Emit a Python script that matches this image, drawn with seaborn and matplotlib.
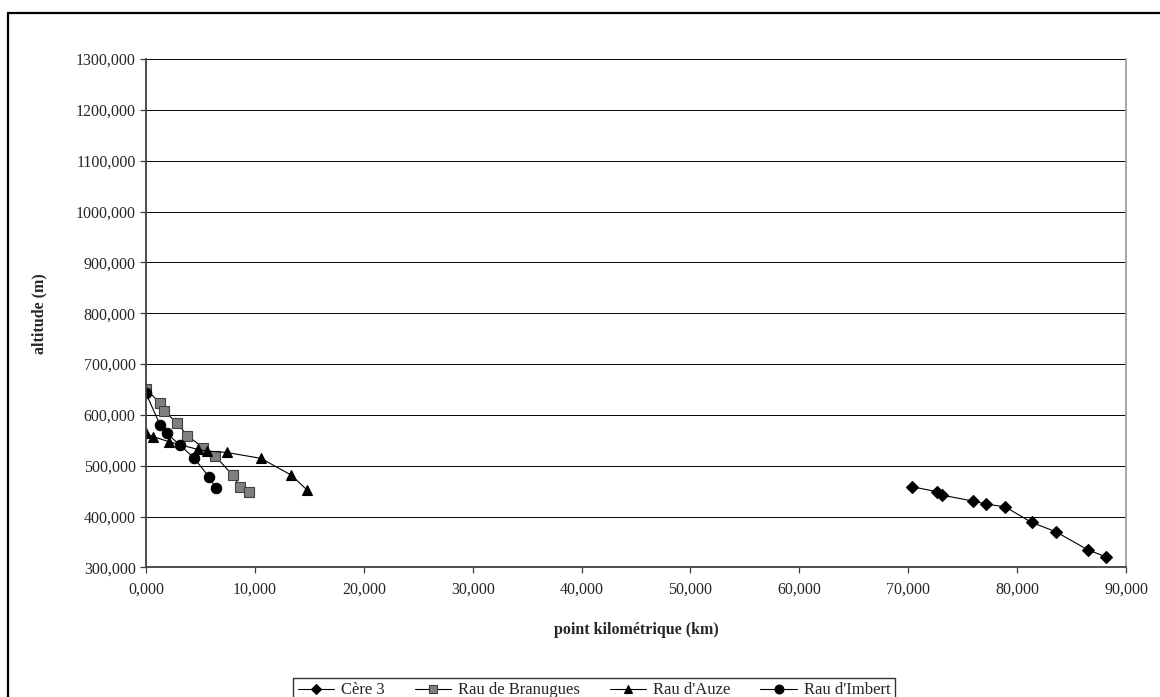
import matplotlib
matplotlib.use("Agg")
import matplotlib.pyplot as plt
import matplotlib.patches as mpatches
from matplotlib.ticker import FuncFormatter, MultipleLocator
import pandas as pd
import seaborn as sns

# donnees (km, altitude en m)
cere_km = [70.37, 72.66, 73.07, 75.97, 77.13, 78.88, 81.33, 83.56, 86.53, 88.15]
cere_alt = [458.6, 448.7, 442.2, 430.4, 424.5, 419.2, 388.5, 370.0, 334.0, 320.9]

branugues_km = [0.0, 1.29, 1.65, 2.82, 3.80, 5.26, 6.34, 7.96, 8.63, 9.49]
branugues_alt = [650.8, 622.6, 608.0, 584.5, 559.0, 535.3, 519.6, 481.0, 458.6, 448.7]

auze_km = [0.0, 0.67, 2.14, 4.75, 5.63, 7.41, 10.56, 13.32, 14.80]
auze_alt = [563.6, 557.0, 547.0, 532.0, 528.8, 526.0, 514.4, 481.6, 452.0]

imbert_km = [0.0, 1.29, 1.90, 3.12, 4.44, 5.81, 6.40]
imbert_alt = [642.3, 580.0, 563.6, 540.6, 514.4, 477.0, 455.4]

series = [
    ("Cère 3", cere_km, cere_alt, "D", "black", 6.5),
    ("Rau de Branugues", branugues_km, branugues_alt, "s", "#808080", 7),
    ("Rau d'Auze", auze_km, auze_alt, "^", "black", 7.5),
    ("Rau d'Imbert", imbert_km, imbert_alt, "o", "black", 7.5),
]

sns.set_style("white")
plt.rcParams["font.family"] = ["Liberation Serif", "DejaVu Serif"]

fig = plt.figure(figsize=(11.6, 6.97), dpi=100)
ax = fig.add_axes([0.1259, 0.186, 0.9707 - 0.1259, 0.9153 - 0.186])

for nom, km, alt, mk, col, ms in series:
    df = pd.DataFrame({"km": km, "alt": alt})
    sns.lineplot(ax=ax, data=df, x="km", y="alt", sort=False, color="black",
                 linewidth=0.8, marker=mk, markersize=ms, markerfacecolor=col,
                 markeredgecolor="black" if col == "black" else "#404040",
                 markeredgewidth=0.8, label=nom)

ax.set_xlim(0, 90)
ax.set_ylim(300, 1300)
ax.xaxis.set_major_locator(MultipleLocator(10))
ax.yaxis.set_major_locator(MultipleLocator(100))
fmt = FuncFormatter(lambda v, p: f"{v:.3f}".replace(".", ","))
ax.xaxis.set_major_formatter(fmt)
ax.yaxis.set_major_formatter(fmt)

ax.yaxis.grid(True, color="black", linewidth=0.7)
ax.xaxis.grid(False)
ax.set_axisbelow(True)

for s in ["left", "bottom"]:
    ax.spines[s].set_color("#404040")
    ax.spines[s].set_linewidth(1.3)
ax.spines["right"].set_color("#a0a0a0")
ax.spines["right"].set_linewidth(1.3)
ax.spines["top"].set_visible(False)

ax.tick_params(axis="both", direction="out", length=4, width=0.9, color="#404040",
               labelsize=11.5, bottom=True, left=True)
ax.tick_params(axis="x", pad=6)

ax.set_xlabel("point kilométrique (km)", fontsize=11.5, fontweight="bold", labelpad=18)
ax.set_ylabel("altitude (m)", fontsize=11.5, fontweight="bold", labelpad=20)

leg = ax.legend(loc="upper center", bbox_to_anchor=(594 / 1160, 1 - 670 / 697),
                bbox_transform=fig.transFigure, ncol=4, frameon=True, fancybox=False,
                fontsize=12, handlelength=2.2, columnspacing=1.8, borderpad=0.25,
                handletextpad=0.4, markerscale=0.85)
leg.get_frame().set_edgecolor("black")
leg.get_frame().set_linewidth(1.0)

# cadre exterieur du graphique
fig.patches.append(mpatches.Rectangle((8 / 1160, -0.1), 1.2, 1 - 13 / 697 + 0.1,
                                      transform=fig.transFigure, fill=False,
                                      edgecolor="black", linewidth=1.6))

fig.savefig("out.png", dpi=100)
